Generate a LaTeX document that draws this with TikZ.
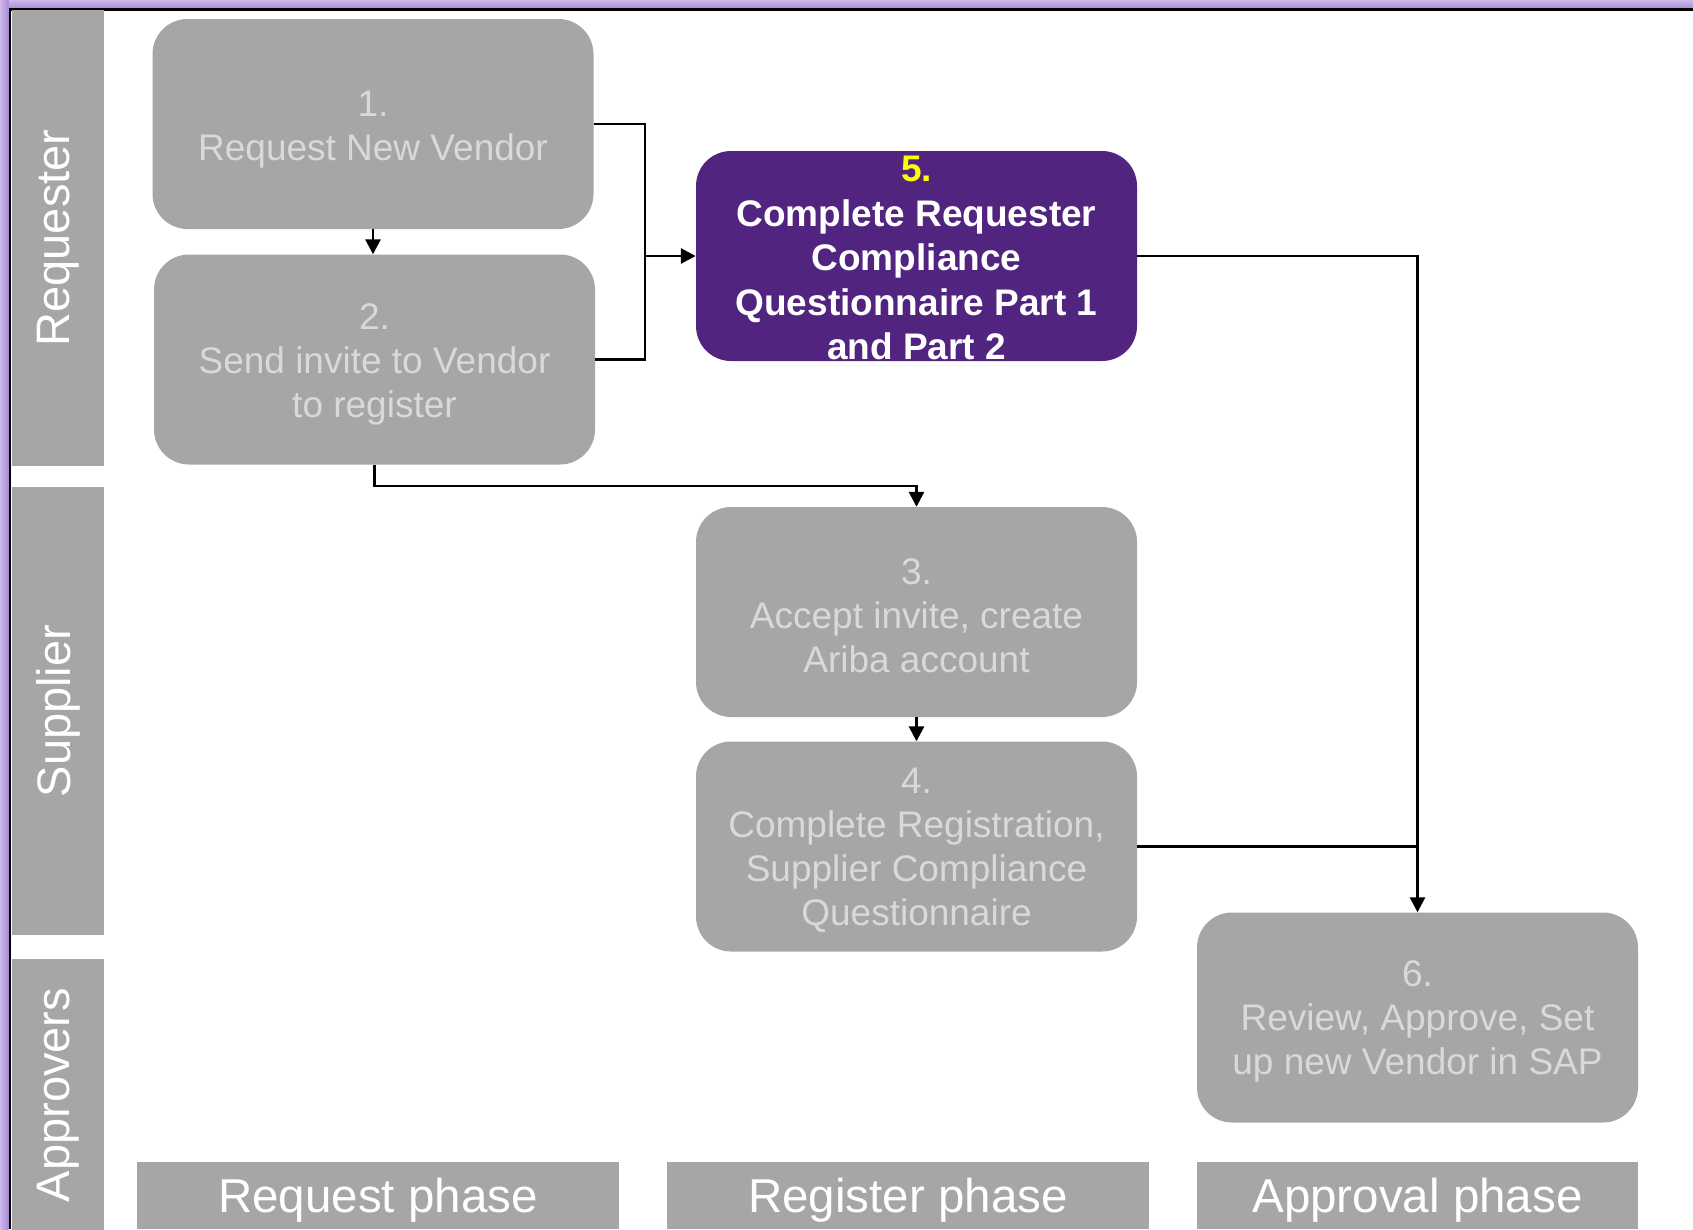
\documentclass[tikz,border=0pt]{standalone}
\usepackage{fontspec}
\setmainfont{Liberation Sans}
\usetikzlibrary{arrows.meta}
\definecolor{boxgray}{HTML}{A6A6A6}
\definecolor{boxtext}{HTML}{D9D9D9}
\definecolor{stepviolet}{HTML}{512480}
\definecolor{frameA}{HTML}{CDB8EA}
\definecolor{frameB}{HTML}{A88BD6}
\definecolor{numyellow}{HTML}{FFFF00}
\begin{document}
\begin{tikzpicture}[x=1pt,y=-1pt,
  stepbox/.style={draw=none,fill=boxgray,rounded corners=35pt,minimum width=441pt,minimum height=210pt,
    inner sep=0pt},
  steptext/.style={inner sep=0pt,align=center,text=boxtext,font=\fontsize{37}{44}\selectfont},
  hottext/.style={steptext,text=white,font=\fontsize{37}{44.5}\selectfont\bfseries},
  lanebox/.style={fill=boxgray,inner sep=0pt,text=white,rotate=90,minimum height=92pt,
    font=\fontsize{47}{50}\selectfont},
  phasebox/.style={fill=boxgray,inner sep=0pt,minimum height=67pt},
  phasetext/.style={inner sep=0pt,text=white,font=\fontsize{47.5}{50}\selectfont},
  conn/.style={line width=2.8pt,black},
  arr/.style={conn,-{Triangle[length=15pt,width=15pt]}}
]
\useasboundingbox (0,0) rectangle (1693,1229);
\fill[white] (0,0) rectangle (1693,1229);
% window frame
\shade[top color=frameA,bottom color=frameB] (0,0) rectangle (1693,8.5);
\shade[left color=frameA,right color=frameB] (0,0) rectangle (8.5,1229);
\draw[line width=2.5pt,black] (10,1229) -- (10,9.5) -- (1693,9.5);

% lanes
\node[lanebox,minimum width=456pt] (laneR) at (58,238) {Requester};
\node[lanebox,minimum width=448pt] (laneS) at (58,711) {Supplier};
\node[lanebox,minimum width=272pt] (laneA) at (58,1095) {Approvers};

% phases
\node[phasebox,minimum width=482pt] (phR) at (378,1195.5) {};
\node[phasebox,minimum width=482pt] (phG) at (908,1195.5) {};
\node[phasebox,minimum width=441pt] (phA) at (1417.5,1195.5) {};
\node[phasetext] (phRt) at ([yshift=-5pt]phR.center) {Request phase};
\node[phasetext] (phGt) at ([yshift=-5pt]phG.center) {Register phase};
\node[phasetext] (phAt) at ([yshift=-5pt]phA.center) {Approval phase};

% steps
\node[stepbox] (b1) at (373,124) {};
\node[stepbox] (b2) at (374.5,359.5) {};
\node[stepbox,fill=stepviolet] (b5) at (916.5,256) {};
\node[stepbox] (b3) at (916.5,612) {};
\node[stepbox] (b4) at (916.5,846.5) {};
\node[stepbox] (b6) at (1417.5,1017.5) {};

\node[steptext] (t1) at ([yshift=-6pt]b1.center) {1.\\Request New Vendor};
\node[steptext] (t2) at ([yshift=-5pt]b2.center) {2.\\Send invite to Vendor\\to register};
\node[hottext] (t5) at ([yshift=-2pt]b5.center) {\textcolor{numyellow}{5.}\\Complete Requester\\Compliance\\Questionnaire Part 1\\and Part 2};
\node[steptext] (t3) at ([yshift=-4pt]b3.center) {3.\\Accept invite, create\\Ariba account};
\node[steptext] (t4) at ([yshift=-4pt]b4.center) {4.\\Complete Registration,\\Supplier Compliance\\Questionnaire};
\node[steptext] (t6) at ([yshift=-4pt]b6.center) {6.\\Review, Approve, Set\\up new Vendor in SAP};

% connectors
\coordinate (j) at (645,256);
\coordinate (k) at (374.5,486);
\draw[conn] (b1.east) -| (j);
\draw[conn] (b2.east) -| (j);
\draw[arr] (j) -- (b5.west);
\draw[arr] (b1.south) -- (b1.south |- b2.north);
\draw[arr] (b2.south) -- (k) -| (b3.north);
\draw[arr] (b3.south) -- (b4.north);
\draw[arr] (b5.east) -| (b6.north);
\draw[conn] (b4.east) -- (b4.east -| b6.north);
\end{tikzpicture}
\end{document}
